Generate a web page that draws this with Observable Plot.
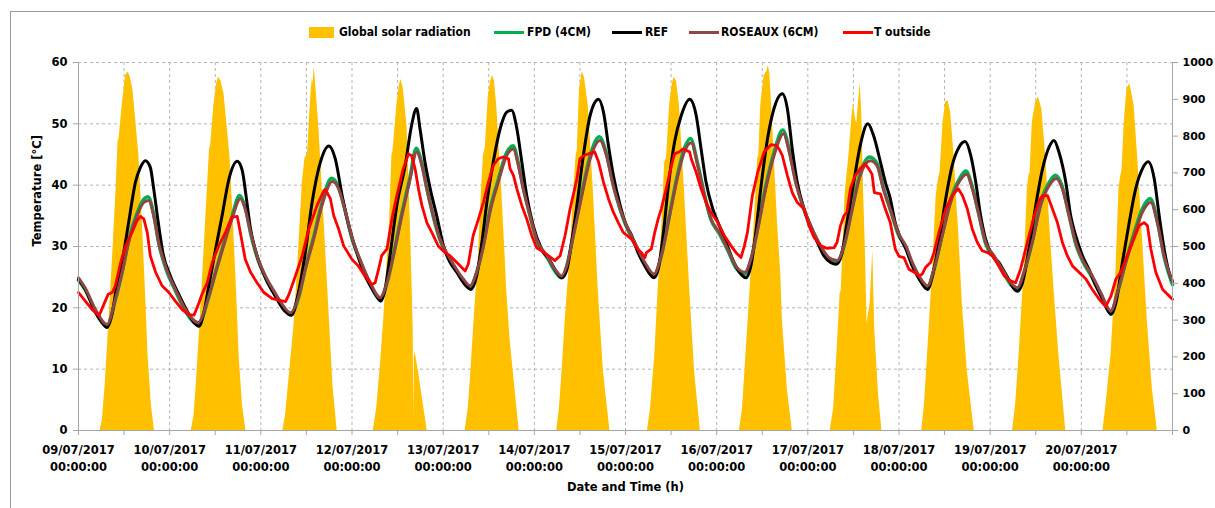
<!DOCTYPE html>
<html><head><meta charset="utf-8">
<script src="https://cdn.jsdelivr.net/npm/d3@7"></script>
<script src="https://cdn.jsdelivr.net/npm/@observablehq/plot@0.6"></script>
<style>
html,body{margin:0;padding:0;background:#fff;overflow:hidden;width:1215px;height:508px;position:relative;}
#frame{position:absolute;left:10px;top:11px;width:1230px;height:520px;border:1.5px solid #9a9a9a;box-sizing:border-box;}
#legend{position:absolute;left:0;top:0;width:1215px;height:50px;font-family:"DejaVu Sans Condensed","Liberation Sans Narrow","DejaVu Sans",sans-serif;font-stretch:condensed;font-weight:bold;font-size:12px;color:#000;}
#legend .sw{position:absolute;}
#legend .tx{position:absolute;top:24px;white-space:nowrap;line-height:16px;}
#chart{position:absolute;left:0;top:50px;}
</style></head>
<body>
<div id="frame"></div>
<div id="legend"></div>
<div id="chart"></div>
<script>
// ---------- data ----------
const dayLabels = ["09/07/2017","10/07/2017","11/07/2017","12/07/2017","13/07/2017","14/07/2017","15/07/2017","16/07/2017","17/07/2017","18/07/2017","19/07/2017","20/07/2017"];
const timeLabel = "00:00:00";
const tempTicks = [0,10,20,30,40,50,60];
const solarTicks = [0,100,200,300,400,500,600,700,800,900,1000];
const seriesNames = ["Global solar radiation","FPD (4CM)","REF","ROSEAUX (6CM)","T outside"];
const seriesColors = ["#FFC000","#00B050","#000000","#8F4644","#FF0000"];

// hours since 09/07/2017 00:00 , W/m²
const solarDay0 = [[5.7,0],[6.3,30],[7.0,120],[8.0,295],[9.0,476],[9.9,657],[10.4,783],[10.7,795],[11.5,883],[12.4,965],[13.0,974],[13.5,965],[14.3,928],[15.1,840],[15.9,747],[16.8,566],[17.6,385],[18.3,204],[19.2,68],[20.0,0]];
const solarDay1 = [[29.7,0],[30.4,40],[31.0,125],[32.0,295],[33.0,480],[33.9,650],[34.5,765],[34.8,775],[35.6,880],[36.4,945],[36.9,960],[37.5,950],[38.3,915],[39.1,830],[39.9,740],[40.8,560],[41.6,380],[42.3,200],[43.2,65],[44.1,0]];
const solarDay2 = [[53.8,0],[54.5,40],[55.5,150],[56.7,281],[57.8,460],[58.9,670],[59.6,740],[60.3,750],[60.8,850],[61.3,930],[61.6,960],[61.8,940],[62.0,987],[62.3,960],[63.3,820],[64.6,580],[65.9,330],[67.0,120],[68.1,0]];
const solarDay3 = [[77.6,0],[78.5,60],[79.5,180],[80.3,294],[81.2,450],[81.9,566],[82.5,747],[82.8,760],[83.8,883],[84.5,940],[84.9,954],[85.5,930],[86.5,824],[87.4,552],[88.1,281],[88.3,20],[88.4,200],[88.6,215],[89.5,160],[90.5,90],[91.8,0]];
const solarDay4 = [[101.8,0],[102.6,60],[103.3,160],[104.1,294],[105.3,476],[106.1,657],[106.6,747],[107.1,770],[107.9,910],[108.5,950],[109.0,965],[109.5,950],[110.1,883],[111.4,657],[112.3,476],[112.7,385],[113.6,249],[114.9,113],[116.0,0]];
const solarDay5 = [[125.9,0],[126.6,60],[127.3,160],[128.1,294],[129.4,476],[130.4,657],[131.0,747],[131.3,760],[131.9,928],[132.6,975],[133.2,960],[134.2,883],[135.5,657],[136.8,385],[138.2,159],[139.9,0]];
const solarDay6 = [[149.8,0],[150.6,60],[151.7,204],[152.6,385],[153.6,566],[154.3,729],[154.8,740],[155.6,883],[156.3,940],[156.8,960],[157.4,950],[158.2,883],[159.5,657],[160.9,385],[162.2,159],[163.7,0]];
const solarDay7 = [[174.0,0],[174.8,60],[175.7,204],[176.8,385],[177.9,566],[178.8,738],[179.1,750],[179.6,883],[180.5,965],[181.2,975],[181.6,992],[182.0,970],[182.7,838],[184.0,566],[184.9,420],[185.3,300],[186.6,113],[187.9,0]];
const solarDay8 = [[197.9,0],[198.8,60],[199.6,200],[200.5,372],[200.8,380],[201.8,644],[202.7,734],[203.6,851],[204.0,888],[204.5,850],[204.9,834],[205.4,900],[205.8,942],[206.2,860],[206.7,644],[207.2,470],[207.6,291],[208.4,345],[209.1,489],[209.6,280],[210.6,100],[211.5,0]];
const solarDay9 = [[222.0,0],[222.7,70],[223.5,204],[224.8,430],[225.8,639],[226.4,684],[226.8,700],[227.6,838],[228.3,892],[228.9,897],[229.6,865],[230.5,747],[231.4,584],[231.6,560],[232.7,340],[234.0,159],[235.8,0]];
const solarDay10 = [[245.9,0],[246.7,70],[247.6,204],[248.9,430],[249.8,657],[250.2,693],[250.5,700],[251.1,838],[252.0,892],[252.7,906],[253.6,874],[254.6,747],[255.9,521],[256.8,385],[258.1,204],[259.9,0]];
const solarDay11 = [[269.7,0],[270.5,70],[271.8,204],[273.1,430],[273.9,657],[274.4,693],[274.7,705],[275.3,838],[276.0,928],[276.8,942],[277.9,883],[278.8,747],[280.1,521],[281.4,294],[282.7,113],[284.0,0]];

// °C
const fpd = [[0,24.5],[1.8,22.9],[4.5,19.4],[7.5,17.0],[9.7,21.3],[11.5,25.9],[13.2,31.0],[15.4,35.4],[17.2,37.7],[18.3,38.1],[19.8,35.2],[21.1,30.6],[22.9,26.6],[25.5,22.8],[28.2,19.4],[31.5,17.3],[34.3,21.8],[36.1,25.9],[38.2,30.4],[40.4,34.9],[42.4,38.3],[43.9,36.3],[45.3,32.2],[47.0,28.3],[49.2,25.0],[51.8,22.2],[53.6,20.4],[55.8,18.9],[58.0,21.8],[59.7,26.4],[61.9,31.5],[64.1,37.1],[66.6,41.1],[68.5,39.6],[70.3,35.6],[72.0,31.3],
[74.1,27.7],[76.8,23.9],[79.4,21.4],[81.2,24.0],[82.9,28.6],[85.1,35.3],[87.3,41.4],[88.9,46.0],[90.4,43.5],[91.7,39.5],[93.4,34.9],[95.2,31.0],[96.9,28.8],[98.7,26.9],[101.3,24.4],[103.1,23.3],[104.8,25.7],[106.6,30.3],[108.3,35.9],[110.5,40.9],[112.7,45.3],[114.4,46.4],[115.8,43.5],[117.1,39.5],[118.9,34.9],[120.6,31.0],[123.3,28.3],[125.4,26.0],[127.2,24.9],[128.5,26.7],[130.3,32.0],[132.5,38.7],[134.7,44.8],[137.1,47.9],[139.0,45.1],[140.8,40.0],[142.6,36.0],[144.0,33.6],
[146.4,30.5],[149.1,27.1],[151.5,25.2],[153.4,28.4],[155.6,35.2],[157.8,42.0],[159.5,46.0],[161.1,47.6],[163.0,43.5],[164.8,38.4],[166.5,34.4],[168.7,32.1],[170.9,29.4],[173.1,26.5],[175.4,25.5],[177.0,27.8],[178.8,33.0],[180.9,39.8],[183.1,45.3],[185.4,49.0],[187.1,45.8],[188.8,40.7],[191.0,36.0],[193.2,32.6],[195.4,29.9],[197.5,28.0],[199.7,27.4],[201.5,30.0],[203.7,36.4],[205.8,42.0],[208.3,44.6],[210.2,43.5],[211.9,39.5],[213.7,36.0],[216.0,31.7],
[217.8,29.9],[219.5,27.1],[221.3,24.9],[223.5,23.3],[225.2,26.2],[227.4,32.0],[229.6,37.6],[231.8,40.9],[233.6,42.3],[235.3,39.7],[237.1,35.0],[238.8,30.5],[241.0,28.3],[243.2,26.0],[245.4,23.8],[247.2,23.0],[248.9,25.7],[251.1,30.9],[253.3,37.1],[255.5,40.4],[257.2,41.6],[259.0,39.7],[260.8,35.0],[262.5,30.5],[264.7,27.2],[266.9,24.9],[269.1,22.2],[271.8,19.2],[273.5,22.4],[275.7,27.5],[277.9,32.2],[280.1,36.2],[282.1,37.8],[284.0,34.2],[285.8,28.3],[288.0,23.8]];

const ref = [[0,24.7],[1.8,23.0],[4.5,19.2],[6.2,17.6],[7.5,16.8],[8.9,19.2],[10.2,24.1],[11.9,29.0],[13.2,33.9],[15.0,40.5],[16.3,42.9],[17.6,44.0],[18.9,42.9],[19.8,39.4],[21.0,33.9],[22.2,29.0],[24.2,25.2],[26.4,22.2],[28.6,19.5],[30.4,17.6],[31.7,17.0],[33.0,19.2],[34.3,23.6],[36.1,29.6],[37.8,35.0],[39.6,41.0],[41.8,43.9],[43.1,42.4],[44.1,38.3],[45.3,32.8],[47.0,28.5],[49.2,24.9],[51.8,21.9],[54.0,19.7],[56.1,18.8],[57.5,21.4],[59.7,29.0],[61.5,37.2],[63.7,43.8],[65.9,46.4],[67.6,44.3],[69.4,38.3],[70.7,34.5],[72.0,31.5],
[73.3,29.0],[75.0,25.8],[76.8,23.6],[78.5,21.9],[79.6,21.1],[80.7,23.0],[82.0,28.5],[83.8,36.7],[86.0,43.2],[87.7,49.8],[89.0,52.5],[89.9,49.2],[91.2,43.8],[92.6,39.4],[94.3,35.0],[96.1,30.1],[97.8,27.4],[99.6,25.8],[101.3,24.1],[103.3,23.0],[104.8,25.2],[106.2,30.7],[107.5,37.2],[109.2,43.8],[111.0,49.2],[112.7,51.9],[114.0,52.2],[115.4,49.2],[116.7,43.8],[118.0,38.3],[119.7,33.4],[121.9,29.6],[124.1,27.7],[125.9,25.8],[127.2,24.9],[128.6,26.3],[129.8,30.7],[131.2,36.7],[132.9,44.8],[134.7,51.4],[136.9,54.0],[138.2,51.9],[139.5,46.5],[140.8,41.6],[142.6,36.7],[144.0,33.8],
[145.6,31.8],[147.3,29.0],[149.1,26.8],[150.4,25.5],[151.5,24.9],[152.6,26.3],[153.9,31.8],[155.2,39.4],[156.9,47.0],[158.7,51.4],[160.9,54.0],[162.6,51.4],[163.9,45.9],[165.2,40.5],[167.0,36.1],[168.7,33.4],[170.5,30.7],[172.2,27.9],[174.0,25.8],[175.7,24.9],[177.0,26.8],[178.3,32.3],[179.6,39.4],[181.4,47.6],[183.1,52.5],[185.3,54.9],[186.6,52.5],[187.9,45.9],[189.2,40.5],[191.0,36.1],[192.7,33.4],[194.5,30.7],[196.2,28.5],[198.0,27.4],[199.5,27.1],[201.0,29.0],[202.3,33.9],[204.1,40.5],[205.8,46.5],[207.8,50.0],[209.3,48.1],[211.1,43.8],[212.4,40.5],[213.7,37.8],[215.0,33.9],[216.0,32.0],
[217.8,29.6],[219.5,26.8],[221.3,24.7],[223.5,23.0],[224.8,25.2],[226.5,30.7],[228.3,37.8],[230.0,43.2],[231.8,46.2],[233.4,47.1],[234.9,44.8],[236.2,40.5],[237.5,35.0],[238.8,31.2],[240.6,28.5],[242.3,27.4],[244.1,25.5],[247.2,22.7],[248.5,24.1],[250.2,29.6],[252.0,36.7],[253.8,42.7],[255.5,46.2],[256.8,47.3],[258.1,45.4],[259.9,40.5],[261.2,35.0],[262.5,31.8],[264.3,28.5],[266.0,26.3],[267.8,23.6],[269.6,21.4],[271.8,18.9],[273.1,20.8],[274.8,27.4],[276.6,33.9],[278.3,39.4],[280.1,42.7],[281.6,43.8],[283.2,41.0],[284.5,35.0],[285.8,29.6],[287.1,25.8],[288.0,24.3]];

const roseaux = [[0,24.9],[1.8,23.2],[4.5,19.7],[7.5,17.3],[9.7,21.4],[11.5,25.8],[13.2,30.7],[15.4,35.0],[17.2,37.2],[18.5,37.5],[19.8,35.0],[21.1,30.7],[22.9,26.8],[25.5,23.0],[28.2,19.7],[31.5,17.6],[34.3,21.9],[36.1,25.8],[38.2,30.1],[40.4,34.5],[42.6,37.8],[43.9,36.1],[45.3,32.3],[47.0,28.5],[49.2,25.2],[51.8,22.4],[53.6,20.6],[55.8,19.2],[58.0,21.9],[59.7,26.3],[61.9,31.2],[64.1,36.7],[66.8,40.6],[68.5,39.4],[70.3,35.6],[72.0,31.5],
[74.1,27.9],[76.8,24.1],[79.4,21.7],[81.2,24.1],[82.9,28.5],[85.1,35.0],[87.3,41.0],[89.0,45.4],[90.4,43.2],[91.7,39.4],[93.4,35.0],[95.2,31.2],[96.9,29.0],[98.7,27.1],[101.3,24.7],[103.1,23.6],[104.8,25.8],[106.6,30.1],[108.3,35.6],[110.5,40.5],[112.7,44.8],[114.5,45.9],[115.8,43.2],[117.1,39.4],[118.9,35.0],[120.6,31.2],[123.3,28.5],[125.4,26.3],[127.2,25.2],[128.5,26.8],[130.3,31.8],[132.5,38.3],[134.7,44.3],[137.3,47.3],[139.0,44.8],[140.8,39.9],[142.6,36.1],[144.0,33.8],
[146.4,30.7],[149.1,27.4],[151.5,25.5],[153.4,28.5],[155.6,35.0],[157.8,41.6],[159.5,45.4],[161.3,46.9],[163.0,43.2],[164.8,38.3],[166.5,34.5],[168.7,32.3],[170.9,29.6],[173.1,26.8],[175.4,25.8],[177.0,27.9],[178.8,32.8],[180.9,39.4],[183.1,44.8],[185.6,48.4],[187.1,45.4],[188.8,40.5],[191.0,36.1],[193.2,32.8],[195.4,30.1],[197.5,28.2],[199.7,27.7],[201.5,30.1],[203.7,36.1],[205.8,41.6],[208.5,44.0],[210.2,43.2],[211.9,39.4],[213.7,36.1],[216.0,32.0],
[217.8,30.1],[219.5,27.4],[221.3,25.2],[223.5,23.6],[225.2,26.3],[227.4,31.8],[229.6,37.2],[231.8,40.5],[233.8,41.8],[235.3,39.4],[237.1,35.0],[238.8,30.7],[241.0,28.5],[243.2,26.3],[245.4,24.1],[247.2,23.3],[248.9,25.8],[251.1,30.7],[253.3,36.7],[255.5,39.9],[257.4,41.1],[259.0,39.4],[260.8,35.0],[262.5,30.7],[264.7,27.4],[266.9,25.2],[269.1,22.5],[271.8,19.5],[273.5,22.5],[275.7,27.4],[277.9,31.8],[280.1,35.6],[282.3,37.2],[284.0,33.9],[285.8,28.5],[288.0,24.2]];

const tOutside = [[0,22.5],[1.8,21.1],[3.6,19.7],[5.4,18.7],[6.7,20.6],[7.8,22.2],[8.9,22.5],[9.7,23.6],[11.1,27.4],[12.4,30.1],[14.1,32.3],[15.4,34.2],[16.3,34.9],[17.2,34.5],[18.1,32.3],[18.9,28.5],[20.3,25.8],[22.0,23.6],[23.8,22.5],[25.5,21.1],[27.3,19.7],[29.0,18.9],[30.4,18.8],[31.7,20.8],[32.5,22.2],[33.9,24.1],[35.2,27.4],[36.9,30.1],[38.7,32.3],[40.4,34.8],[41.8,34.9],[42.6,32.3],[43.9,27.9],[45.3,25.8],[47.0,24.1],[48.8,22.5],[51.0,21.5],[54.5,21.0],[55.4,22.2],[57.1,25.2],[58.9,28.5],[60.6,32.8],[62.8,36.7],[64.6,39.1],[65.0,39.3],[66.3,37.8],[67.2,35.0],[68.5,32.8],[69.8,30.1],[72.0,27.9],
[73.7,26.8],[75.4,25.2],[77.2,23.8],[78.1,24.1],[79.0,26.3],[79.8,28.5],[81.2,29.6],[82.5,34.5],[83.8,38.3],[85.5,42.7],[86.9,45.1],[87.7,44.8],[88.6,42.7],[89.5,39.4],[90.4,36.7],[91.7,33.9],[93.0,32.3],[94.7,30.1],[96.5,29.0],[97.8,28.5],[99.6,27.4],[101.8,26.0],[102.6,27.1],[103.9,31.8],[105.3,34.5],[106.6,37.2],[107.9,40.5],[109.2,43.2],[110.5,44.3],[111.8,44.6],[113.2,44.3],[113.6,42.7],[114.5,41.6],[115.4,39.4],[116.7,36.7],[118.0,34.5],[119.3,31.8],[120.6,29.8],[121.9,29.3],[123.7,28.5],[125.4,27.7],[126.8,28.5],[128.1,31.8],[129.4,36.1],[131.2,41.0],[132.0,44.3],[132.9,44.8],[134.2,45.1],[135.9,45.4],[136.9,43.8],[138.2,40.5],[139.5,37.8],[140.8,35.6],[142.1,33.9],[143.4,32.3],[144.0,32.0],
[145.6,31.2],[146.9,29.8],[148.2,29.0],[149.1,28.2],[149.5,29.0],[150.8,29.6],[151.7,32.3],[152.6,34.5],[153.4,36.1],[154.7,39.4],[156.1,43.2],[156.9,45.1],[158.1,45.4],[159.1,45.9],[160.0,45.7],[160.9,45.4],[161.3,44.3],[162.6,42.1],[163.9,39.4],[165.2,37.2],[166.5,35.6],[168.3,33.9],[170.0,31.8],[171.8,30.1],[173.1,29.0],[174.4,28.2],[175.3,30.1],[176.1,32.3],[177.4,38.3],[178.8,42.1],[180.5,45.4],[182.3,46.6],[183.6,46.5],[184.4,45.9],[185.3,44.8],[186.6,41.6],[187.9,38.8],[189.2,37.2],[191.0,36.1],[192.3,33.4],[193.6,31.5],[195.4,30.1],[197.1,29.7],[198.9,29.8],[199.7,30.7],[200.6,33.4],[201.5,35.0],[202.3,35.6],[203.2,39.4],[204.5,41.6],[205.8,42.7],[207.1,43.5],[208.0,42.7],[208.9,41.8],[209.5,38.8],[211.1,38.6],[212.4,36.1],[213.7,33.9],[215.0,29.6],[216.0,28.4],
[217.3,28.2],[218.6,26.3],[220.0,25.8],[221.3,25.2],[222.1,25.5],[223.0,26.6],[224.3,27.4],[225.2,29.0],[226.5,32.3],[228.3,36.1],[230.0,38.3],[231.6,39.4],[232.7,38.3],[234.0,36.1],[235.3,32.8],[236.6,30.7],[237.9,29.3],[239.3,29.0],[240.6,28.5],[242.3,26.8],[243.7,25.2],[245.4,24.4],[246.7,24.1],[248.0,26.3],[249.8,30.7],[251.6,35.0],[252.9,37.5],[253.8,38.3],[255.1,38.3],[256.4,36.1],[257.7,33.9],[259.0,30.7],[260.3,28.5],[261.7,26.8],[263.4,25.8],[265.2,24.7],[266.9,23.0],[268.7,21.4],[270.4,20.2],[271.8,21.9],[273.1,24.7],[274.4,25.8],[275.7,27.9],[277.5,30.7],[279.2,33.4],[280.5,33.9],[281.4,33.4],[282.3,29.6],[283.6,25.8],[285.4,23.0],[288.0,21.4]];

// ---------- build ----------
const solarDays = [solarDay0,solarDay1,solarDay2,solarDay3,solarDay4,solarDay5,solarDay6,solarDay7,solarDay8,solarDay9,solarDay10,solarDay11];
const solar = [[0,0], ...solarDays.flat(), [288,0]];
const tempMax = tempTicks[tempTicks.length-1];
const solarMax = solarTicks[solarTicks.length-1];
const toTemp = s => s * tempMax / solarMax;
const hourTicks = d3.range(0, 24*dayLabels.length + 1, 12);
const gridHours = hourTicks.filter(h => h > 0 && h < 24*dayLabels.length);

const grey = "#a6a6a6";
const chart = Plot.plot({
  width: 1215, height: 458,
  marginLeft: 78, marginRight: 43, marginTop: 12, marginBottom: 78,
  x: {domain: [0, 24*dayLabels.length]},
  y: {domain: [0, tempMax]},
  style: {fontFamily: "'DejaVu Sans', sans-serif", fontSize: "11.5px", fontWeight: "bold", color: "#000", background: "transparent", overflow: "visible"},
  marks: [
    Plot.ruleX(gridHours, {stroke: "#b3b3b3", strokeDasharray: "3,3", strokeWidth: 1}),
    Plot.ruleY(tempTicks.filter(t => t > 0), {stroke: "#b3b3b3", strokeDasharray: "3,3", strokeWidth: 1}),
    Plot.areaY(solar, {x: d => d[0], y: d => toTemp(d[1]), fill: seriesColors[0]}),
    Plot.line(fpd, {x: d => d[0], y: d => d[1], stroke: seriesColors[1], strokeWidth: 3.6, curve: "monotone-x"}),
    Plot.line(ref, {x: d => d[0], y: d => d[1], stroke: seriesColors[2], strokeWidth: 3, curve: "monotone-x"}),
    Plot.line(roseaux, {x: d => d[0], y: d => d[1], stroke: seriesColors[3], strokeWidth: 3, curve: "monotone-x"}),
    Plot.line(tOutside, {x: d => d[0], y: d => d[1], stroke: seriesColors[4], strokeWidth: 2.8, curve: "linear"}),
    Plot.ruleX([0, 24*dayLabels.length], {stroke: grey, strokeWidth: 1}),
    Plot.ruleY([0], {stroke: grey, strokeWidth: 1}),
    Plot.axisY({ticks: tempTicks, tickSize: 5, tickPadding: 6, stroke: grey, fill: "#000", label: null}),
    Plot.axisY({anchor: "right", ticks: solarTicks.map(toTemp), tickFormat: t => String(Math.round(t * solarMax / tempMax)), tickSize: 5, tickPadding: 5, stroke: grey, fill: "#000", label: null, fontSize: 11}),
    Plot.axisX({ticks: hourTicks, tickSize: 5, tickPadding: 7, stroke: grey, fill: "#000", lineHeight: 1.45, label: null,
      tickFormat: h => (h % 24 === 0 && h / 24 < dayLabels.length) ? dayLabels[h / 24] + "\n" + timeLabel : ""}),
    Plot.text(["Temperature [°C]"], {frameAnchor: "left", rotate: -90, dx: -41, fill: "#000"}),
    Plot.text(["Date and Time (h)"], {frameAnchor: "bottom", dy: 60, fill: "#000"})
  ]
});
document.getElementById("chart").appendChild(chart);

// ---------- legend ----------
const legend = document.getElementById("legend");
const legendPos = [[309, 339], [494, 527], [612, 645], [689, 721], [843, 874]];
seriesNames.forEach((name, i) => {
  const sw = document.createElement("div");
  sw.className = "sw";
  sw.style.left = legendPos[i][0] + "px";
  sw.style.background = seriesColors[i];
  if (i === 0) { sw.style.top = "27px"; sw.style.width = "25px"; sw.style.height = "11px"; }
  else { sw.style.top = "31px"; sw.style.width = "30px"; sw.style.height = "3px"; }
  legend.appendChild(sw);
  const tx = document.createElement("div");
  tx.className = "tx";
  tx.style.left = legendPos[i][1] + "px";
  tx.textContent = name;
  legend.appendChild(tx);
});
</script>
</body></html>
